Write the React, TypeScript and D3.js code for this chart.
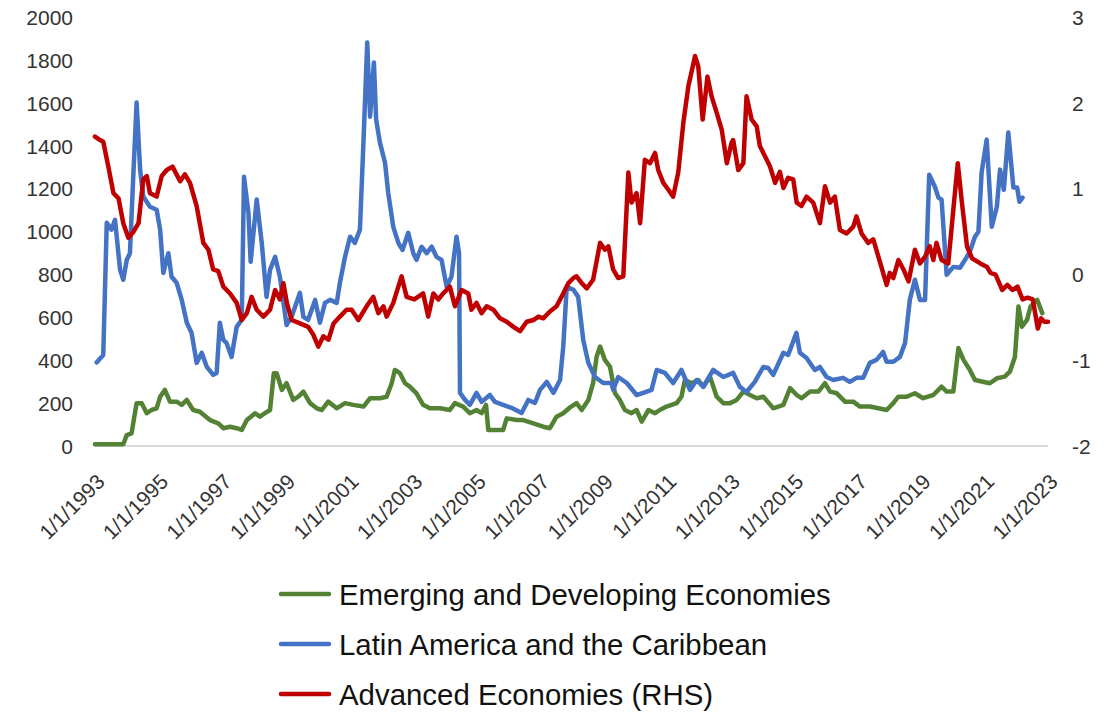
import React from 'react'
import * as d3 from 'd3'

// decimal year, value (left axis)
const emerging: [number, number][] = [
  [1993.0, 8], [1993.89, 8], [1994.0, 51], [1994.15, 59], [1994.31, 200], [1994.47, 200], [1994.63, 153], [1994.78, 168],
  [1994.94, 176], [1995.05, 230], [1995.2, 262], [1995.36, 207], [1995.57, 207], [1995.73, 192], [1995.89, 215], [1996.09, 168],
  [1996.3, 160], [1996.62, 121], [1996.88, 106], [1997.04, 83], [1997.25, 90], [1997.46, 83], [1997.62, 75], [1997.78, 121],
  [1998.04, 153], [1998.19, 137], [1998.35, 153], [1998.51, 168], [1998.63, 340], [1998.72, 340], [1998.88, 262], [1999.03, 293],
  [1999.24, 215], [1999.4, 230], [1999.56, 254], [1999.77, 200], [1999.98, 176], [2000.14, 168], [2000.34, 207], [2000.61, 176],
  [2000.87, 200], [2001.13, 192], [2001.45, 184], [2001.66, 223], [2001.97, 223], [2002.18, 230], [2002.34, 293], [2002.44, 355],
  [2002.6, 340], [2002.76, 293], [2002.91, 277], [2003.12, 246], [2003.33, 192], [2003.54, 176], [2003.86, 176], [2004.17, 168],
  [2004.33, 200], [2004.59, 184], [2004.8, 153], [2005.01, 168], [2005.17, 153], [2005.31, 192], [2005.38, 75], [2005.85, 75],
  [2005.96, 129], [2006.27, 121], [2006.48, 121], [2006.8, 106], [2007.11, 90], [2007.32, 83], [2007.53, 137], [2007.74, 153],
  [2007.95, 180], [2008.16, 200], [2008.32, 168], [2008.53, 215], [2008.68, 293], [2008.79, 417], [2008.9, 464], [2009.05, 402],
  [2009.21, 371], [2009.37, 246], [2009.52, 215], [2009.68, 168], [2009.89, 153], [2010.05, 168], [2010.21, 114], [2010.42, 168],
  [2010.63, 153], [2010.78, 168], [2010.99, 184], [2011.31, 200], [2011.46, 230], [2011.57, 308], [2011.78, 293], [2011.99, 308],
  [2012.15, 277], [2012.36, 324], [2012.57, 230], [2012.78, 200], [2012.99, 200], [2013.2, 215], [2013.41, 254], [2013.62, 238],
  [2013.83, 223], [2014.04, 230], [2014.35, 176], [2014.67, 192], [2014.88, 270], [2015.09, 238], [2015.24, 223], [2015.51, 254],
  [2015.77, 254], [2015.98, 293], [2016.14, 254], [2016.35, 246], [2016.61, 207], [2016.87, 207], [2017.08, 184], [2017.39, 184],
  [2017.66, 176], [2017.92, 168], [2018.13, 200], [2018.29, 230], [2018.55, 230], [2018.81, 246], [2019.07, 223], [2019.39, 238],
  [2019.65, 277], [2019.81, 254], [2020.02, 254], [2020.18, 457], [2020.34, 402], [2020.54, 355], [2020.7, 308], [2020.91, 301],
  [2021.17, 293], [2021.39, 316], [2021.64, 324], [2021.8, 347], [2021.96, 417], [2022.07, 651], [2022.18, 557], [2022.34, 589],
  [2022.45, 651], [2022.66, 682], [2022.82, 620]
]

const latam: [number, number][] = [
  [1993.05, 390], [1993.26, 425], [1993.37, 1042], [1993.52, 1010], [1993.63, 1056], [1993.79, 822], [1993.89, 776], [1994.0, 869],
  [1994.1, 900], [1994.2, 1243], [1994.31, 1603], [1994.42, 1290], [1994.52, 1164], [1994.73, 1117], [1994.94, 1103], [1995.05, 1010],
  [1995.15, 808], [1995.31, 900], [1995.41, 790], [1995.57, 762], [1995.73, 682], [1995.89, 575], [1996.04, 528], [1996.2, 388],
  [1996.36, 435], [1996.52, 369], [1996.72, 332], [1996.83, 341], [1996.93, 575], [1997.04, 495], [1997.14, 481], [1997.3, 416],
  [1997.46, 556], [1997.62, 589], [1997.69, 1257], [1997.83, 1089], [1997.9, 860], [1998.09, 1150], [1998.25, 948], [1998.4, 696],
  [1998.51, 822], [1998.67, 883], [1998.82, 790], [1999.03, 565], [1999.19, 603], [1999.45, 715], [1999.56, 603], [1999.71, 589],
  [1999.93, 682], [2000.08, 575], [2000.24, 668], [2000.4, 682], [2000.61, 668], [2000.71, 762], [2000.87, 883], [2001.03, 977],
  [2001.18, 948], [2001.34, 1010], [2001.45, 1416], [2001.57, 1883], [2001.66, 1537], [2001.78, 1790], [2001.85, 1523], [2001.97, 1416],
  [2002.13, 1322], [2002.23, 1182], [2002.39, 1023], [2002.55, 948], [2002.68, 915], [2002.86, 995], [2003.02, 900], [2003.12, 869],
  [2003.28, 930], [2003.44, 900], [2003.6, 930], [2003.75, 883], [2003.91, 869], [2004.07, 743], [2004.22, 790], [2004.38, 977],
  [2004.46, 900], [2004.49, 248], [2004.65, 215], [2004.8, 192], [2005.01, 248], [2005.17, 206], [2005.43, 238], [2005.59, 206],
  [2005.85, 192], [2006.11, 178], [2006.43, 154], [2006.64, 215], [2006.85, 201], [2007.01, 262], [2007.22, 299], [2007.43, 248],
  [2007.64, 308], [2007.74, 463], [2007.85, 743], [2008.06, 729], [2008.21, 696], [2008.37, 495], [2008.53, 388], [2008.74, 322],
  [2009.0, 294], [2009.26, 294], [2009.31, 262], [2009.47, 322], [2009.74, 294], [2010.05, 238], [2010.26, 248], [2010.52, 262],
  [2010.68, 355], [2010.94, 341], [2011.2, 294], [2011.46, 355], [2011.73, 262], [2011.94, 308], [2012.15, 276], [2012.46, 355],
  [2012.78, 322], [2013.09, 341], [2013.3, 276], [2013.51, 252], [2013.77, 299], [2014.04, 369], [2014.19, 364], [2014.35, 332],
  [2014.67, 435], [2014.82, 425], [2015.08, 528], [2015.19, 435], [2015.4, 411], [2015.66, 355], [2015.82, 369], [2016.03, 322],
  [2016.24, 308], [2016.55, 318], [2016.76, 299], [2016.97, 318], [2017.18, 318], [2017.39, 388], [2017.6, 402], [2017.81, 439],
  [2017.92, 393], [2018.13, 393], [2018.34, 416], [2018.5, 481], [2018.65, 682], [2018.81, 776], [2018.97, 682], [2019.13, 682],
  [2019.26, 1266], [2019.44, 1210], [2019.55, 1159], [2019.65, 1150], [2019.81, 799], [2020.02, 836], [2020.23, 832], [2020.39, 869],
  [2020.54, 907], [2020.7, 977], [2020.81, 1000], [2020.91, 1276], [2021.07, 1430], [2021.23, 1023], [2021.39, 1117], [2021.49, 1290],
  [2021.61, 1196], [2021.75, 1463], [2021.91, 1206], [2022.03, 1206], [2022.1, 1140], [2022.2, 1159]
]

// right axis
const advanced: [number, number][] = [
  [1993.0, 1.61], [1993.16, 1.57], [1993.26, 1.55], [1993.42, 1.26], [1993.58, 0.95], [1993.74, 0.89], [1993.89, 0.6], [1994.05, 0.43],
  [1994.21, 0.5], [1994.37, 0.6], [1994.52, 1.11], [1994.63, 1.15], [1994.73, 0.95], [1994.94, 0.91], [1995.1, 1.15], [1995.26, 1.22],
  [1995.44, 1.26], [1995.68, 1.09], [1995.83, 1.17], [1995.99, 1.07], [1996.2, 0.8], [1996.41, 0.37], [1996.57, 0.29], [1996.72, 0.06],
  [1996.88, 0.04], [1997.04, -0.14], [1997.25, -0.22], [1997.46, -0.33], [1997.62, -0.53], [1997.78, -0.45], [1997.93, -0.26], [1998.09, -0.41],
  [1998.3, -0.49], [1998.51, -0.41], [1998.67, -0.18], [1998.82, -0.29], [1998.93, -0.1], [1999.04, -0.33], [1999.19, -0.53], [1999.45, -0.57],
  [1999.71, -0.61], [1999.87, -0.7], [2000.03, -0.84], [2000.19, -0.72], [2000.35, -0.76], [2000.51, -0.57], [2000.71, -0.49], [2000.92, -0.41],
  [2001.08, -0.41], [2001.29, -0.53], [2001.55, -0.37], [2001.76, -0.26], [2001.92, -0.45], [2002.08, -0.37], [2002.18, -0.49], [2002.39, -0.33],
  [2002.65, -0.02], [2002.81, -0.26], [2003.05, -0.29], [2003.33, -0.22], [2003.49, -0.49], [2003.65, -0.22], [2003.81, -0.29], [2003.96, -0.22],
  [2004.17, -0.14], [2004.33, -0.37], [2004.54, -0.18], [2004.75, -0.22], [2004.85, -0.41], [2005.01, -0.33], [2005.17, -0.45], [2005.33, -0.37],
  [2005.54, -0.41], [2005.75, -0.51], [2005.96, -0.55], [2006.17, -0.61], [2006.38, -0.66], [2006.59, -0.55], [2006.8, -0.53], [2006.96, -0.49],
  [2007.11, -0.51], [2007.32, -0.43], [2007.53, -0.37], [2007.74, -0.22], [2007.9, -0.1], [2008.06, -0.04], [2008.16, -0.02], [2008.32, -0.1],
  [2008.48, -0.16], [2008.68, -0.06], [2008.9, 0.37], [2009.05, 0.29], [2009.16, 0.33], [2009.31, 0.06], [2009.47, -0.04], [2009.63, -0.02],
  [2009.79, 1.19], [2009.89, 0.84], [2010.05, 0.95], [2010.16, 0.6], [2010.31, 1.34], [2010.47, 1.3], [2010.63, 1.42], [2010.73, 1.22],
  [2010.89, 1.07], [2011.05, 0.99], [2011.2, 0.91], [2011.36, 1.19], [2011.52, 1.77], [2011.68, 2.2], [2011.89, 2.55], [2011.99, 2.43],
  [2012.13, 1.81], [2012.28, 2.31], [2012.41, 2.08], [2012.57, 1.89], [2012.73, 1.69], [2012.89, 1.3], [2013.04, 1.54], [2013.09, 1.57],
  [2013.25, 1.22], [2013.41, 1.3], [2013.51, 2.08], [2013.67, 1.81], [2013.83, 1.73], [2013.93, 1.5], [2014.09, 1.38], [2014.25, 1.26],
  [2014.41, 1.07], [2014.56, 1.2], [2014.67, 1.01], [2014.82, 1.13], [2014.98, 1.11], [2015.09, 0.84], [2015.24, 0.8], [2015.4, 0.91],
  [2015.61, 0.84], [2015.82, 0.6], [2015.98, 1.03], [2016.14, 0.84], [2016.29, 0.91], [2016.45, 0.52], [2016.66, 0.48], [2016.87, 0.56],
  [2016.97, 0.68], [2017.13, 0.48], [2017.34, 0.37], [2017.5, 0.41], [2017.66, 0.21], [2017.81, 0.02], [2017.92, -0.12], [2018.02, 0.02],
  [2018.13, -0.04], [2018.29, 0.17], [2018.45, 0.06], [2018.61, -0.08], [2018.81, 0.29], [2018.97, 0.13], [2019.13, 0.21], [2019.28, 0.33],
  [2019.39, 0.17], [2019.49, 0.37], [2019.65, 0.17], [2019.86, 0.13], [2020.02, 0.76], [2020.16, 1.3], [2020.29, 0.84], [2020.45, 0.33],
  [2020.61, 0.19], [2020.87, 0.13], [2021.08, 0.09], [2021.19, 0.02], [2021.35, 0.0], [2021.56, -0.18], [2021.72, -0.12], [2021.88, -0.18],
  [2022.04, -0.14], [2022.2, -0.29], [2022.36, -0.27], [2022.52, -0.29], [2022.68, -0.63], [2022.78, -0.51], [2022.89, -0.55], [2023.0, -0.55]
]

const leftTicks = [0, 200, 400, 600, 800, 1000, 1200, 1400, 1600, 1800, 2000]
const rightTicks = [-2, -1, 0, 1, 2, 3]
const yearTicks = d3.range(1993, 2024, 2)

const series = [
  { name: 'Emerging and Developing Economies', color: '#548235' },
  { name: 'Latin America and the Caribbean', color: '#4472C4' },
  { name: 'Advanced Economies (RHS)', color: '#C00000' }
]

export default function App() {
  const width = 1110
  const height = 713
  const left = 95, right = 1048, top = 17.5, bottom = 446

  const x = d3.scaleLinear().domain([1993, 2023]).range([left, right])
  const yL = d3.scaleLinear().domain([0, 2000]).range([bottom, top])
  const yR = d3.scaleLinear().domain([-2, 3]).range([bottom, top])

  const lineL = d3.line<[number, number]>().x(d => x(d[0])).y(d => yL(d[1]))
  const lineR = d3.line<[number, number]>().x(d => x(d[0])).y(d => yR(d[1]))

  const tickFont = '"Liberation Sans", Arial, sans-serif'
  const sw = 4.5

  return (
    <svg width={width} height={height} style={{ position: 'absolute', left: 0, top: 0, background: '#fff' }}>
      <line x1={left} x2={right} y1={bottom} y2={bottom} stroke="#d9d9d9" strokeWidth={2} />

      {leftTicks.map(t => (
        <text key={'l' + t} x={73} y={yL(t)} dy="0.36em" textAnchor="end" fontSize={21} fontFamily={tickFont} fill="#333">{t}</text>
      ))}
      {rightTicks.map(t => (
        <text key={'r' + t} x={1072} y={yR(t)} dy="0.36em" textAnchor="start" fontSize={21} fontFamily={tickFont} fill="#333">{t}</text>
      ))}
      {yearTicks.map(yr => (
        <text key={'x' + yr} transform={`translate(${x(yr) + 11},${bottom + 37}) rotate(-45)`} textAnchor="end"
          fontSize={21} fontFamily={tickFont} fill="#333">{'1/1/' + yr}</text>
      ))}

      <path d={lineL(emerging) || ''} fill="none" stroke={series[0].color} strokeWidth={sw} strokeLinejoin="round" strokeLinecap="round" />
      <path d={lineL(latam) || ''} fill="none" stroke={series[1].color} strokeWidth={sw} strokeLinejoin="round" strokeLinecap="round" />
      <path d={lineR(advanced) || ''} fill="none" stroke={series[2].color} strokeWidth={sw} strokeLinejoin="round" strokeLinecap="round" />

      {series.map((s, i) => (
        <g key={s.name} transform={`translate(0,${594 + i * 50})`}>
          <line x1={281} x2={329} y1={0} y2={0} stroke={s.color} strokeWidth={sw} strokeLinecap="round" />
          <text x={339} y={0} dy="0.36em" fontSize={29.4} fontFamily={tickFont} fill="#111">{s.name}</text>
        </g>
      ))}
    </svg>
  )
}
